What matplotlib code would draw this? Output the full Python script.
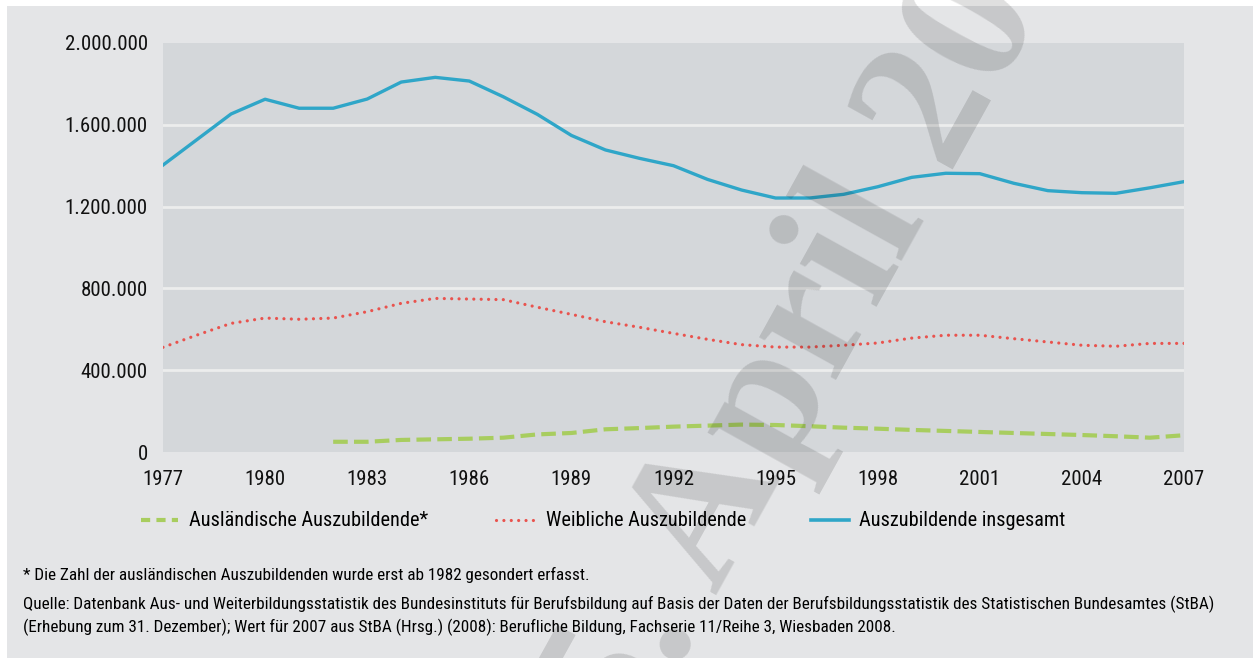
import matplotlib
matplotlib.use("Agg")
import matplotlib.pyplot as plt
from matplotlib.lines import Line2D
from matplotlib.patches import Rectangle
from matplotlib.ticker import FuncFormatter
from matplotlib import font_manager

names = {f.name for f in font_manager.fontManager.ttflist}
cond = [n for n in ['Liberation Sans Narrow', 'DejaVu Sans Condensed', 'Roboto Condensed',
                    'Open Sans Condensed', 'Noto Sans Condensed'] if n in names]
plt.rcParams['font.family'] = cond + ['DejaVu Sans']

years = list(range(1977, 2008))
insgesamt = [1403000, 1528000, 1653000, 1725000, 1681000, 1681000, 1726000,
             1809000, 1832000, 1814000, 1737000, 1651000, 1548000, 1477000,
             1436000, 1400000, 1333000, 1281000, 1242000, 1242000, 1260000,
             1297000, 1343000, 1363000, 1361000, 1314000, 1278000, 1268000,
             1265000, 1292000, 1322000]
weiblich = [512000, 572000, 629000, 655000, 649000, 655000, 686000, 727000,
            751000, 748000, 745000, 708000, 673000, 637000, 610000, 580000,
            551000, 525000, 513000, 513000, 522000, 533000, 557000, 571000,
            571000, 554000, 538000, 522000, 517000, 531000, 531000]
years_ausl = list(range(1982, 2008))
auslaendisch = [50000, 50000, 59000, 62000, 65000, 70000, 86000, 93000,
                111000, 117000, 124000, 129000, 134000, 132000, 126000,
                119000, 114000, 108000, 103000, 98000, 93000, 88000, 83000,
                77000, 70000, 82000]

x_ticks = list(range(1977, 2008, 3))
y_ticks = [0, 400000, 800000, 1200000, 1600000, 2000000]

blue = '#2fa6c8'
red = '#e9534e'
green = '#a8cd5f'
W, H = 1253, 658

fig = plt.figure(figsize=(12.53, 6.58), dpi=100, facecolor='white')
fig.patches.append(Rectangle((7 / W, 0), 1, (H - 6) / H,
                             transform=fig.transFigure, facecolor='#e4e5e7',
                             edgecolor='none', zorder=-5))

ax = fig.add_axes([163 / W, (H - 452) / H, (1184 - 163) / W, (452 - 43) / H])
ax.set_facecolor('#d4d7da')
for s in ax.spines.values():
    s.set_visible(False)

ax.set_xlim(1977, 2007)
ax.set_ylim(0, 2000000)
ax.set_xticks(x_ticks)
ax.set_yticks(y_ticks)
ax.yaxis.set_major_formatter(FuncFormatter(lambda v, p: f"{int(v):,}".replace(',', '.')))
ax.tick_params(length=0, labelsize=15, colors='#111111', pad=11)
ax.tick_params(axis='x', pad=13)
for v in y_ticks[1:-1]:
    ax.axhline(v, color='#eceded', lw=2, zorder=1)

ax.plot(years_ausl, auslaendisch, color=green, lw=3.0, dashes=(3.5, 1.5), zorder=3)
ax.plot(years, weiblich, color=red, lw=2.3, dashes=(0.01, 2.3), dash_capstyle='round', zorder=3)
ax.plot(years, insgesamt, color=blue, lw=2.4, zorder=3)

# legend
ly = 1 - 520 / H
fig.lines.append(Line2D([141 / W, 178 / W], [ly, ly], transform=fig.transFigure,
                        color=green, lw=3, dashes=(2.2, 1.5)))
fig.text(189 / W, ly, "Ausländische Auszubildende*", fontsize=14.6, va='center')
fig.lines.append(Line2D([496 / W, 537 / W], [ly, ly], transform=fig.transFigure,
                        color=red, lw=2.3, dashes=(0.01, 2.3), dash_capstyle='round'))
fig.text(546 / W, ly, "Weibliche Auszubildende", fontsize=14.6, va='center')
fig.lines.append(Line2D([811 / W, 849 / W], [ly, ly], transform=fig.transFigure,
                        color=blue, lw=2.6))
fig.text(859 / W, ly, "Auszubildende insgesamt", fontsize=14.6, va='center')

fig.text(23 / W, 1 - 575 / H,
         "* Die Zahl der ausländischen Auszubildenden wurde erst ab 1982 gesondert erfasst.",
         fontsize=12.3, va='center')
fig.text(23 / W, 1 - 616 / H,
         "Quelle: Datenbank Aus- und Weiterbildungsstatistik des Bundesinstituts für Berufsbildung auf Basis der Daten der Berufsbildungsstatistik des Statistischen Bundesamtes (StBA)\n"
         "(Erhebung zum 31. Dezember); Wert für 2007 aus StBA (Hrsg.) (2008): Berufliche Bildung, Fachserie 11/Reihe 3, Wiesbaden 2008.",
         fontsize=12.3, va='center', linespacing=1.42)

# watermark
fig.text(583 / W, 1 - 837 / H, "15. April 2009", rotation=61, rotation_mode='anchor',
         fontsize=137, fontweight='bold', family=['Liberation Serif', 'DejaVu Serif'],
         color='black', alpha=0.13, ha='left', va='baseline', zorder=10)

fig.savefig("out.png", dpi=100)
